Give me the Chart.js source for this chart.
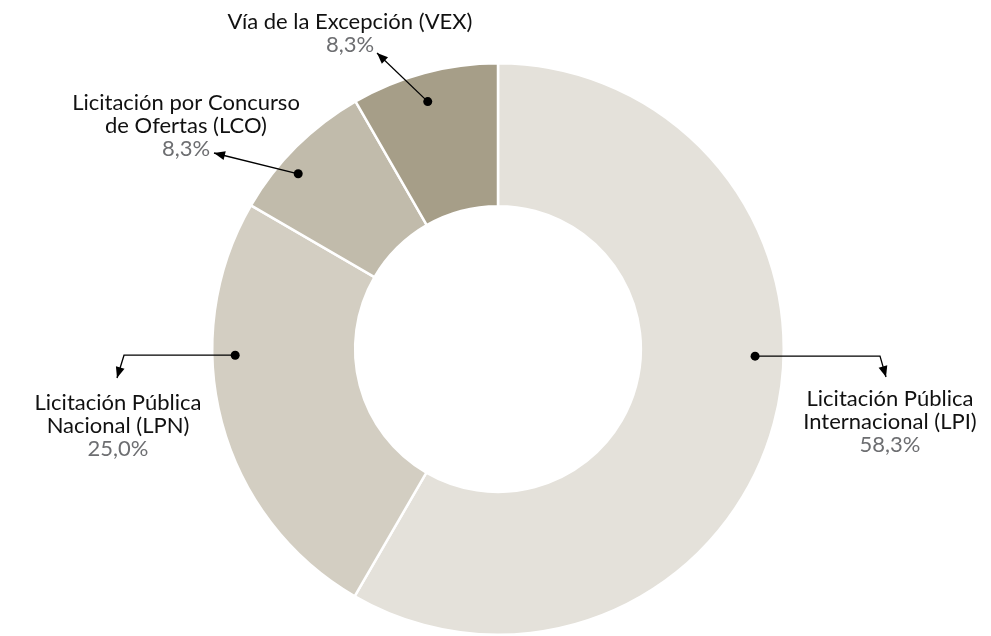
<!DOCTYPE html>
<html>
<head>
<meta charset="utf-8">
<script src="https://cdn.jsdelivr.net/npm/chart.js@4.4.1/dist/chart.umd.min.js"></script>
<style>
  html, body { margin: 0; padding: 0; background: #fff; }
  #wrap { width: 991px; height: 636px; position: relative; }
</style>
</head>
<body>
<div id="wrap"><canvas id="modalidades"></canvas></div>
<script>
// Procurement methods and their share (%)
const categories = [
    ['Licitación Pública', 'Internacional (LPI)'],
    ['Licitación Pública', 'Nacional (LPN)'],
    ['Licitación por Concurso', 'de Ofertas (LCO)'],
    ['Vía de la Excepción (VEX)']
];
const shares = [58.3, 25.0, 8.3, 8.3];
const shareLabels = ['58,3%', '25,0%', '8,3%', '8,3%'];
const sliceColors = ['#e4e1da', '#d3cec2', '#c1bbab', '#a69e88'];

// Callout layout for each slice: where the dot sits on the arc (t = fraction
// along the arc, rf = fraction of outer radius), the elbow x / arrow tip and
// the first text baseline, all relative to the doughnut centre.
const callouts = [
    { t: 0.436, rf: 0.90, elbowX: 382, tip: [388, 28], text: [392, 57] },
    { t: 0.65, rf: 0.92, elbowX: -374, tip: [-381, 29], text: [-380, 61] },
    { t: 0.37, rf: 0.93, elbowX: null, tip: [-284, -196], text: [-312, -239] },
    { t: 0.47, rf: 0.90, elbowX: null, tip: [-121, -296], text: [-148, -320] }
];

function arrowHead(ctx, fx, fy, tx, ty) {
    const a = Math.atan2(ty - fy, tx - fx);
    const len = 11, half = 4.5;
    ctx.beginPath();
    ctx.moveTo(tx, ty);
    ctx.lineTo(tx - len * Math.cos(a) + half * Math.sin(a), ty - len * Math.sin(a) - half * Math.cos(a));
    ctx.lineTo(tx - len * Math.cos(a) - half * Math.sin(a), ty - len * Math.sin(a) + half * Math.cos(a));
    ctx.closePath();
    ctx.fill();
}

const calloutPlugin = {
    id: 'callouts',
    afterDraw(chart) {
        const ctx = chart.ctx;
        const meta = chart.getDatasetMeta(0);
        ctx.save();
        meta.data.forEach((arc, i) => {
            const c = callouts[i];
            const cx = arc.x, cy = arc.y;
            const ang = arc.startAngle + c.t * (arc.endAngle - arc.startAngle);
            const r = arc.outerRadius * c.rf;
            const dx = cx + r * Math.cos(ang), dy = cy + r * Math.sin(ang);

            ctx.strokeStyle = '#000';
            ctx.fillStyle = '#000';
            ctx.lineWidth = 1.3;

            // dot
            ctx.beginPath();
            ctx.arc(dx, dy, 4.5, 0, Math.PI * 2);
            ctx.fill();

            // leader line (horizontal run first for side labels) + arrow
            const tx = cx + c.tip[0], ty = cy + c.tip[1];
            let fx = dx, fy = dy;
            ctx.beginPath();
            ctx.moveTo(dx, dy);
            if (c.elbowX !== null) {
                fx = cx + c.elbowX;
                ctx.lineTo(fx, fy);
            }
            ctx.lineTo(tx, ty);
            ctx.stroke();
            arrowHead(ctx, fx, fy, tx, ty);

            // text
            ctx.textAlign = 'center';
            ctx.textBaseline = 'alphabetic';
            const lx = cx + c.text[0];
            let ly = cy + c.text[1];
            ctx.font = '22px Lato, sans-serif';
            ctx.fillStyle = '#111';
            categories[i].forEach(line => {
                ctx.fillText(line, lx, ly);
                ly += 23;
            });
            ctx.fillStyle = '#6d6e71';
            ctx.fillText(shareLabels[i], lx, ly);
        });
        ctx.restore();
    }
};

new Chart(document.getElementById('modalidades'), {
    type: 'doughnut',
    data: {
        labels: categories.map(l => l.join(' ')),
        datasets: [{
            data: shares,
            backgroundColor: sliceColors,
            borderColor: '#ffffff',
            borderWidth: 2.5,
            hoverOffset: 0
        }]
    },
    options: {
        responsive: true,
        maintainAspectRatio: false,
        animation: false,
        cutout: '50%',
        layout: { padding: { left: 211, right: 206, top: 62, bottom: 0 } },
        plugins: {
            legend: { display: false },
            tooltip: { enabled: false }
        }
    },
    plugins: [calloutPlugin]
});
</script>
</body>
</html>
